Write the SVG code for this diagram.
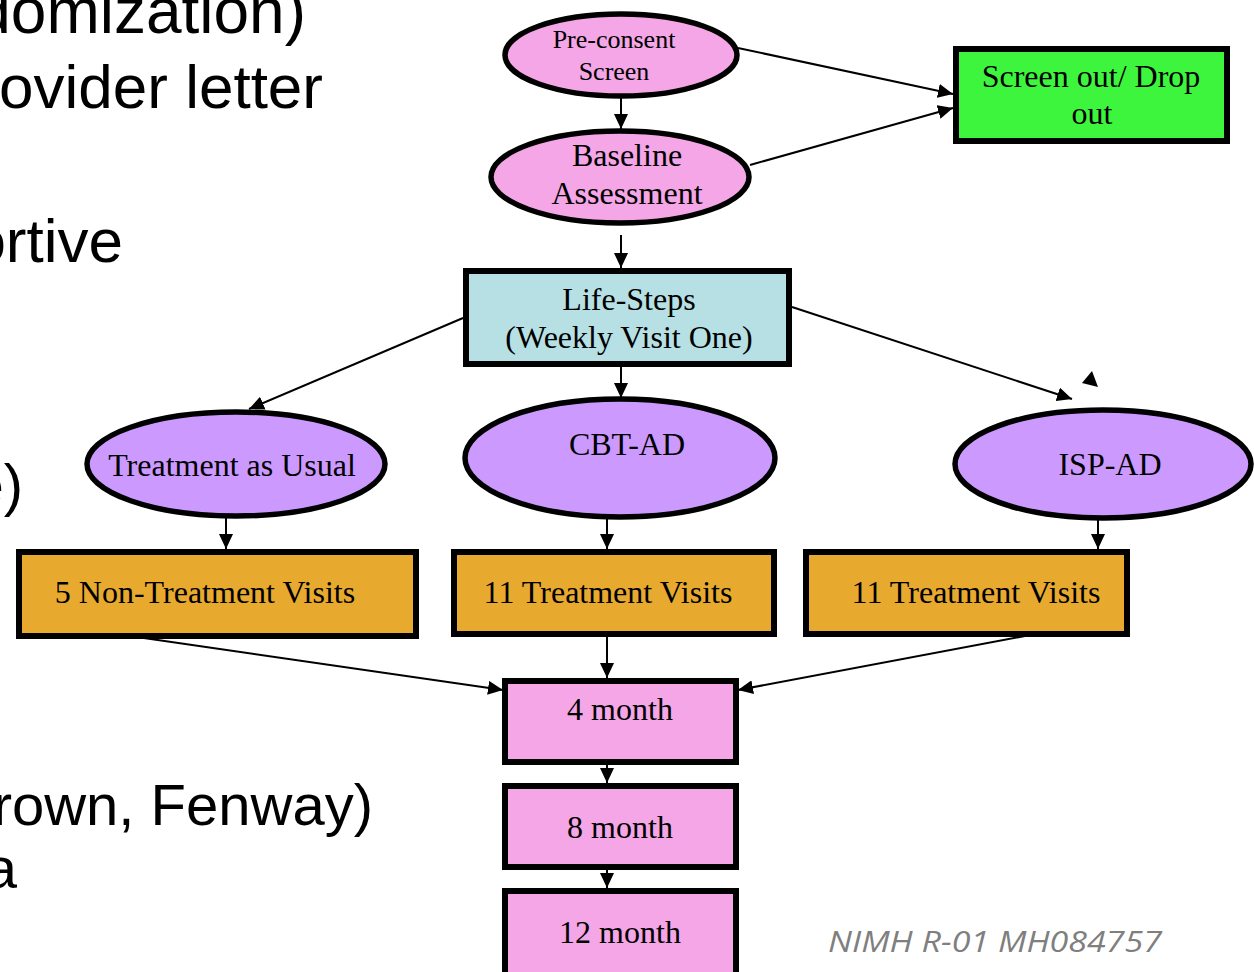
<svg xmlns="http://www.w3.org/2000/svg" width="1254" height="972" viewBox="0 0 1254 972">
  <style>
    .bg { fill: #ffffff; }
    .slide { font-family: "Liberation Sans", Arial, sans-serif; fill: #000; }
    .lbl { font-family: "Liberation Serif", "Times New Roman", serif; font-size: 32px; fill: #000; text-anchor: middle; }
    .lbl.small { font-size: 26px; }
    .ell { stroke: #000; stroke-width: 5.5; }
    .box { stroke: #000; stroke-width: 6; }
    .pink { fill: #F4A6E6; }
    .green { fill: #3EF53E; }
    .blue { fill: #B7E0E4; }
    .purple { fill: #CC99FF; }
    .gold { fill: #E8AA2E; }
    .edge { stroke: #000; stroke-width: 2; fill: none; marker-end: url(#arrow); }
    .credit { font-family: "Open Sans", "Liberation Sans", sans-serif; font-style: italic; font-size: 30px; fill: #7F7F7F; }
  </style>
  <defs>
    <marker id="arrow" markerUnits="userSpaceOnUse" markerWidth="16" markerHeight="14" refX="15" refY="7" orient="auto">
      <path d="M0,0 L15,7 L0,14 z" fill="#000"/>
    </marker>
  </defs>

  <rect class="bg" x="0" y="0" width="1254" height="972"/>

  <!-- slide bullet text running off the left edge -->
  <g id="slide-text" class="slide">
    <text x="306" y="33" font-size="64" text-anchor="end">domization)</text>
    <text x="323" y="108" font-size="62" text-anchor="end">rovider letter</text>
    <text x="123" y="262" font-size="62" text-anchor="end">portive</text>
    <text x="23" y="505" font-size="58" text-anchor="end">e)</text>
    <text x="373" y="825" font-size="58" text-anchor="end">Brown, Fenway)</text>
    <text x="17" y="888" font-size="58" text-anchor="end">a</text>
  </g>

  <!-- connectors -->
  <g id="connectors">
    <line class="edge" x1="621" y1="97" x2="621" y2="129"/>
    <line class="edge" x1="738" y1="48" x2="953" y2="94"/>
    <line class="edge" x1="750" y1="165" x2="953" y2="108"/>
    <line class="edge" x1="621" y1="235" x2="621" y2="268"/>
    <line class="edge" x1="463" y1="318" x2="249" y2="409"/>
    <line class="edge" x1="621" y1="367" x2="621" y2="398"/>
    <line class="edge" x1="792" y1="307" x2="1072" y2="399"/>
    <path d="M1092,371 L1082,383 L1098,387 z" fill="#000"/>
    <line class="edge" x1="226" y1="518" x2="226" y2="549"/>
    <line class="edge" x1="607" y1="518" x2="607" y2="549"/>
    <line class="edge" x1="1098" y1="520" x2="1098" y2="549"/>
    <line class="edge" x1="130" y1="636" x2="503" y2="690"/>
    <line class="edge" x1="1025" y1="636" x2="738" y2="690"/>
    <line class="edge" x1="607" y1="636" x2="607" y2="678"/>
    <line class="edge" x1="607" y1="751" x2="607" y2="783"/>
    <line class="edge" x1="607" y1="870" x2="607" y2="888"/>
  </g>

  <g id="pre-consent">
    <ellipse class="ell pink" cx="621" cy="55" rx="116" ry="41"/>
    <text class="lbl small" x="614" y="48">Pre-consent</text>
    <text class="lbl small" x="614" y="80">Screen</text>
  </g>

  <g id="baseline">
    <ellipse class="ell pink" cx="620" cy="177" rx="129" ry="46"/>
    <text class="lbl" x="627" y="166">Baseline</text>
    <text class="lbl" x="627" y="204">Assessment</text>
  </g>

  <g id="screen-out">
    <rect class="box green" x="956" y="49" width="271" height="92"/>
    <text class="lbl" x="1091" y="87">Screen out/ Drop</text>
    <text class="lbl" x="1092" y="124">out</text>
  </g>

  <g id="life-steps">
    <rect class="box blue" x="466" y="271" width="323" height="93"/>
    <text class="lbl" x="629" y="310">Life-Steps</text>
    <text class="lbl" x="629" y="348">(Weekly Visit One)</text>
  </g>

  <g id="tau">
    <ellipse class="ell purple" cx="236" cy="464" rx="149" ry="52"/>
    <text class="lbl" x="232" y="476">Treatment as Usual</text>
  </g>

  <g id="cbt-ad">
    <ellipse class="ell purple" cx="620" cy="458" rx="155" ry="59"/>
    <text class="lbl" x="627" y="455">CBT-AD</text>
  </g>

  <g id="isp-ad">
    <ellipse class="ell purple" cx="1103" cy="464" rx="148" ry="54"/>
    <text class="lbl" x="1110" y="475">ISP-AD</text>
  </g>

  <g id="non-treatment-visits">
    <rect class="box gold" x="19" y="552" width="397" height="84"/>
    <text class="lbl" x="205" y="603">5 Non-Treatment Visits</text>
  </g>

  <g id="cbt-visits">
    <rect class="box gold" x="454" y="552" width="320" height="82"/>
    <text class="lbl" x="608" y="603">11 Treatment Visits</text>
  </g>

  <g id="isp-visits">
    <rect class="box gold" x="806" y="552" width="321" height="82"/>
    <text class="lbl" x="976" y="603">11 Treatment Visits</text>
  </g>

  <g id="month-4">
    <rect class="box pink" x="505" y="681" width="231" height="81"/>
    <text class="lbl" x="620" y="720">4 month</text>
  </g>

  <g id="month-8">
    <rect class="box pink" x="505" y="786" width="231" height="81"/>
    <text class="lbl" x="620" y="838">8 month</text>
  </g>

  <g id="month-12">
    <rect class="box pink" x="505" y="891" width="231" height="90"/>
    <text class="lbl" x="620" y="943">12 month</text>
  </g>

  <text class="credit" x="828" y="952" textLength="334" lengthAdjust="spacingAndGlyphs">NIMH R-01 MH084757</text>
</svg>
